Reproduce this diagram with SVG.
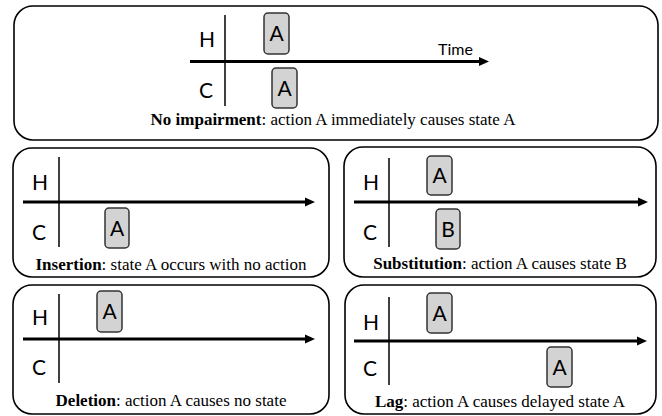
<svg xmlns="http://www.w3.org/2000/svg" width="662" height="416" viewBox="0 0 662 416">
<style>
.frame{fill:#fff;stroke:#000;stroke-width:1.6}
.vl{stroke:#000;stroke-width:1.5}
.ax{stroke:#000;stroke-width:3;fill:none}
.lbl{font-family:Lato,"Open Sans",sans-serif;font-size:21px;fill:#000}
.bx{fill:#d3d3d3;stroke:#333;stroke-width:1.5}
.bt{font-family:Lato,"Open Sans",sans-serif;font-size:21px;fill:#000;text-anchor:middle}
.cap{font-family:"Liberation Serif","Times New Roman",serif;font-size:17px;fill:#000;text-anchor:middle}
.time{font-family:Lato,"Open Sans",sans-serif;font-size:16px;fill:#000}
</style>
<defs>
<marker id="ah" markerUnits="userSpaceOnUse" markerWidth="11" markerHeight="10" refX="2" refY="5" orient="auto">
<path d="M0,0.5 L10,5 L0,9.5 z" fill="#000"/>
</marker>
</defs>
<rect width="662" height="416" fill="#fff"/>

<g id="panel-none">
<rect class="frame" x="14" y="6" width="644" height="134" rx="19"/>
<text class="lbl" x="199" y="47">H</text>
<text class="lbl" x="199" y="98">C</text>
<line class="vl" x1="225" y1="15" x2="225" y2="106"/>
<text class="time" x="438" y="55">Time</text>
<text class="cap" x="333" y="125"><tspan font-weight="bold">No impairment</tspan>: action A immediately causes state A</text>
</g>
<g id="box-none-h"><rect class="bx" x="264" y="13" width="25" height="41" rx="4"/><text class="bt" x="276.5" y="41">A</text></g>
<g id="box-none-c"><rect class="bx" x="272" y="68" width="25" height="40" rx="4"/><text class="bt" x="284.5" y="96">A</text></g>

<g id="panel-insertion">
<rect class="frame" x="13" y="148" width="316" height="129" rx="19"/>
<text class="lbl" x="32" y="190">H</text>
<text class="lbl" x="32" y="240">C</text>
<line class="vl" x1="59" y1="157" x2="59" y2="247"/>
<text class="cap" x="171" y="270"><tspan font-weight="bold">Insertion</tspan>: state A occurs with no action</text>
</g>
<g id="box-ins-c"><rect class="bx" x="105" y="208" width="24" height="40" rx="4"/><text class="bt" x="117" y="236">A</text></g>

<g id="panel-substitution">
<rect class="frame" x="344" y="147" width="312" height="130" rx="19"/>
<text class="lbl" x="363" y="190">H</text>
<text class="lbl" x="363" y="240">C</text>
<line class="vl" x1="389" y1="158" x2="389" y2="247"/>
<text class="cap" x="500" y="269"><tspan font-weight="bold">Substitution</tspan>: action A causes state B</text>
</g>
<g id="box-sub-h"><rect class="bx" x="427" y="156" width="25" height="39" rx="4"/><text class="bt" x="439.5" y="183">A</text></g>
<g id="box-sub-c"><rect class="bx" x="436" y="209" width="24" height="40" rx="4"/><text class="bt" x="448" y="237">B</text></g>

<g id="panel-deletion">
<rect class="frame" x="13" y="285" width="316" height="129" rx="19"/>
<text class="lbl" x="32" y="325">H</text>
<text class="lbl" x="32" y="375">C</text>
<line class="vl" x1="59" y1="294" x2="59" y2="383"/>
<text class="cap" x="171" y="406"><tspan font-weight="bold">Deletion</tspan>: action A causes no state</text>
</g>
<g id="box-del-h"><rect class="bx" x="97" y="291" width="25" height="41" rx="4"/><text class="bt" x="109.5" y="319">A</text></g>

<g id="panel-lag">
<rect class="frame" x="345" y="285" width="311" height="129" rx="19"/>
<text class="lbl" x="363" y="330">H</text>
<text class="lbl" x="363" y="376">C</text>
<line class="vl" x1="389" y1="297" x2="389" y2="385"/>
<text class="cap" x="500" y="407"><tspan font-weight="bold">Lag</tspan>: action A causes delayed state A</text>
</g>
<g id="box-lag-h"><rect class="bx" x="427" y="293" width="25" height="40" rx="4"/><text class="bt" x="439.5" y="321">A</text></g>
<g id="box-lag-c"><rect class="bx" x="547" y="347" width="25" height="40" rx="4"/><text class="bt" x="559.5" y="375">A</text></g>

<g id="connectors">
<line class="ax" x1="190" y1="61.5" x2="481" y2="61.5" marker-end="url(#ah)"/>
<line class="ax" x1="23" y1="202" x2="307" y2="202" marker-end="url(#ah)"/>
<line class="ax" x1="354" y1="202" x2="640" y2="202" marker-end="url(#ah)"/>
<line class="ax" x1="23" y1="339" x2="307" y2="339" marker-end="url(#ah)"/>
<line class="ax" x1="354" y1="341" x2="639" y2="341" marker-end="url(#ah)"/>
</g>
</svg>
